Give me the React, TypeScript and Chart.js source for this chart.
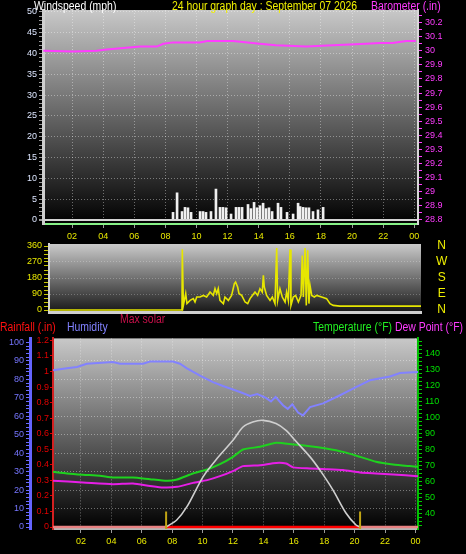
import React, { useEffect, useRef } from 'react';
import { Chart, registerables } from 'chart.js';

Chart.register(...registerables);

const FONT = "'Liberation Sans Narrow', 'Liberation Sans', Arial, sans-serif";

// ---------- texts ----------
const TITLE = '24 hour graph day : September 07 2026';
const WIND_TITLE = 'Windspeed (mph)';
const BARO_TITLE = 'Barometer (.in)';
const RAIN_TITLE = 'Rainfall (.in)';
const HUM_TITLE = 'Humidity';
const SOLAR_TITLE = 'Max solar';
const TEMP_TITLE = 'Temperature (°F)';
const DEW_TITLE = 'Dew Point (°F)';

// ---------- tick labels ----------
const hourTicks = [2, 4, 6, 8, 10, 12, 14, 16, 18, 20, 22, 24];
const hourTickLabels = ['02', '04', '06', '08', '10', '12', '14', '16', '18', '20', '22', '00'];
const windLabels = [0, 5, 10, 15, 20, 25, 30, 35, 40, 45, 50];
const baroLabels = [28.8, 28.9, 29, 29.1, 29.2, 29.3, 29.4, 29.5, 29.6, 29.7, 29.8, 29.9, 30, 30.1, 30.2];
const dirLabels = [0, 90, 180, 270, 360];
const compassLabels = ['N', 'E', 'S', 'W', 'N'];
const humLabels = [0, 10, 20, 30, 40, 50, 60, 70, 80, 90, 100];
const rainLabels = [0, 0.1, 0.2, 0.3, 0.4, 0.5, 0.6, 0.7, 0.8, 0.9, 1, 1.1, 1.2];
const tempLabels = [40, 50, 60, 70, 80, 90, 100, 110, 120, 130, 140];

// ---------- data ----------
const gustHours = [8.49, 8.75, 9.07, 9.26, 9.45, 9.65, 10.23, 10.42, 10.61, 10.93, 11.25, 11.51, 11.7, 11.9,
  12.22, 12.54, 12.73, 12.93, 13.31, 13.5, 13.7, 13.89, 14.08, 14.28, 14.47, 14.66, 14.86, 15.24, 15.43,
  15.82, 16.21, 16.53, 16.66, 16.85, 17.04, 17.23, 17.49, 17.81, 18.14];
const gustMph = [1.8, 6.5, 2, 3, 2.9, 1.8, 2, 2, 1.8, 2, 7.4, 3, 3, 2.9,
  1.4, 3, 3, 3, 3.7, 2.7, 4.2, 2.9, 3.4, 4, 2.7, 2.9, 2, 4, 3,
  1.8, 1.4, 4, 3.2, 3, 2.9, 2.9, 2, 2.4, 3];

const baroHours = [0.15, 2.08, 3.58, 4.22, 5.3, 6.37, 7.44, 7.87, 8.5, 10.2, 10.7, 12.35, 14.06, 15.1, 17.06,
  18.78, 20.9, 21.8, 22.6, 23.5, 24.1];
const baroInHg = [30.0, 29.995, 30.0, 30.01, 30.02, 30.03, 30.03, 30.05, 30.06, 30.06, 30.07, 30.07, 30.05,
  30.04, 30.03, 30.04, 30.05, 30.055, 30.055, 30.07, 30.07];

const dirHours = [0, 8.58, 8.6, 8.67, 8.82, 8.9, 9.1, 9.31, 9.42, 9.53, 9.74, 9.96, 10.17, 10.39, 10.6, 10.71,
  10.82, 10.92, 11.03, 11.25, 11.35, 11.57, 11.78, 11.96, 12.04, 12.17, 12.26, 12.43, 12.65, 12.82, 12.97,
  13.12, 13.29, 13.46, 13.61, 13.76, 13.83, 13.89, 14.04, 14.26, 14.41, 14.58, 14.69, 14.75, 14.9, 15.05,
  15.23, 15.33, 15.44, 15.55, 15.61, 15.76, 15.91, 16.09, 16.26, 16.34, 16.41, 16.52, 16.6, 16.69, 16.77,
  16.84, 16.95, 17.12, 17.27, 17.59, 17.91, 18.13, 18.34, 18.77, 24];
const dirDegrees = [0, 0, 341, 26, 92, 36, 54, 64, 45, 73, 73, 82, 73, 101, 82, 120,
  92, 120, 54, 36, 73, 54, 82, 148, 157, 129, 92, 82, 45, 36, 64,
  82, 101, 82, 120, 101, 195, 129, 82, 54, 73, 36, 349, 54, 120, 73,
  45, 101, 54, 341, 26, 73, 82, 45, 82, 307, 73, 349, 26, 336, 36,
  139, 82, 73, 82, 73, 64, 36, 26, 22, 22];

const humHours = [0.16, 1.08, 1.74, 2.39, 4.1, 4.57, 6.08, 6.54, 8.05, 8.51, 8.97, 9.83, 10.68, 11.34, 12.0,
  12.5, 13.12, 13.6, 14.17, 14.5, 14.8, 15.29, 15.6, 15.9, 16.28, 16.6, 17.07, 17.93, 19.04, 20.09, 21.01,
  22.33, 22.99, 24.17];
const humidity = [85, 86, 86.7, 88.5, 89.4, 88.5, 88.5, 89.7, 89.7, 88.5, 86, 82, 78.5, 76.4, 74.5,
  73, 71, 72, 70, 68, 70.5, 66, 64, 66.5, 62, 60.5, 65, 67, 71.4, 75.8, 79.5,
  81.6, 83.4, 84];

const tempHours = [0.16, 1.08, 2.13, 3.25, 4.1, 5.42, 6.54, 7.66, 8.32, 9.37, 10.3, 11.14, 12.0, 12.66, 13.78,
  14.84, 15.96, 17.07, 18.12, 19.24, 20.36, 21.41, 22.53, 23.64, 24.17];
const temperature = [65.8, 64.8, 64, 63.3, 62.3, 62.3, 61.2, 60.2, 61, 64.8, 67.3, 70.6, 75.2, 79.8, 81.5,
  84, 83, 81.9, 80.4, 78.3, 75.2, 72.1, 70.4, 69.4, 69];

const dewHours = [0.16, 2.13, 4.1, 5.42, 6.54, 7.4, 8.32, 9.37, 10.3, 11.14, 12.0, 12.66, 13.78, 14.84, 15.5,
  15.96, 17.07, 18.12, 19.24, 20.36, 21.41, 22.53, 24.17];
const dewPoint = [60.2, 59.2, 58.1, 58.5, 57, 56, 56.4, 58.9, 60.6, 63.1, 66.3, 69.4, 70, 71.4, 71,
  68.6, 67.9, 67.5, 66.9, 65.4, 64.8, 64.2, 63.1];

const solarHours = [7.6, 8.3, 8.97, 10.03, 10.95, 12.0, 12.66, 13.3, 13.97, 14.83, 15.49, 16.08, 17.07, 17.72,
  18.58, 19.43, 20.09, 20.36];
const maxSolar = [0, 38, 110, 272, 371, 470, 542, 569, 578, 561, 524, 470, 380, 308, 200, 76, 11, 0];

const rainHours = [0, 7.6, 20.36, 24.2];
const rainfall = [0, 0, 0, 0];

const sunriseHour = 7.6;
const sunsetHour = 20.36;

// ---------- helpers ----------
const pts = (xs: number[], ys: number[]) => xs.map((x, i) => ({ x, y: ys[i] }));
const range = (a: number, b: number, step: number) => {
  const out: number[] = [];
  for (let v = a; v <= b + 1e-9; v += step) out.push(Math.round(v * 1000) / 1000);
  return out;
};
const near = (v: number, list: number[]) => list.some((l) => Math.abs(l - v) < 1e-6);
const fmt1 = (v: number) => String(Number(v.toFixed(1)));

const GRID_DOT = 'rgba(255,255,255,0.38)';

const bgPlugin = {
  id: 'bgGradient',
  beforeDraw(chart: any, _args: any, opts: any) {
    const { ctx, chartArea: a } = chart;
    if (!a || !opts || !opts.stops) return;
    const g = ctx.createLinearGradient(0, a.top, 0, a.bottom);
    opts.stops.forEach((s: [number, string]) => g.addColorStop(s[0], s[1]));
    ctx.save();
    ctx.fillStyle = g;
    ctx.fillRect(a.left, a.top, a.right - a.left, a.bottom - a.top);
    ctx.restore();
  },
};

const tickFont = { size: 9, family: FONT };

const hourAxis = (min: number, max: number, height: number, borderColor: string, borderWidth: number) => ({
  type: 'linear',
  min,
  max,
  bounds: 'data',
  offset: false,
  afterBuildTicks: (s: any) => { s.ticks = hourTicks.map((v) => ({ value: v })); },
  afterFit: (s: any) => { s.height = height; },
  ticks: {
    color: '#e8e800',
    font: tickFont,
    padding: 3,
    maxRotation: 0,
    autoSkip: false,
    callback: (v: number) => hourTickLabels[hourTicks.indexOf(v)] ?? '',
  },
  grid: { color: GRID_DOT, tickColor: '#9a9a9a', tickLength: 4, offset: false },
  border: { color: borderColor, width: borderWidth, dash: [1, 2] },
});

const baseOptions = (padTop: number, stops: [number, string][]) => ({
  responsive: false,
  maintainAspectRatio: false,
  animation: false,
  events: [],
  layout: { padding: { top: padTop, left: 0, right: 0, bottom: 0 } },
  plugins: {
    legend: { display: false },
    tooltip: { enabled: false },
    bgGradient: { stops },
  },
});

function makeWindChart(canvas: HTMLCanvasElement) {
  return new Chart(canvas, {
    type: 'line',
    plugins: [bgPlugin as any],
    data: {
      datasets: [
        {
          type: 'line', label: 'Barometer', data: pts(baroHours, baroInHg), yAxisID: 'yBaro',
          borderColor: '#ff3cff', borderWidth: 2, pointRadius: 0, tension: 0,
        },
        {
          type: 'bar', label: 'Wind gust', data: pts(gustHours, gustMph), yAxisID: 'yWind',
          backgroundColor: '#f0f0f0', barThickness: 2,
        },
      ] as any,
    },
    options: {
      ...baseOptions(10, [[0, '#c8c8c8'], [1, '#000000']]),
      scales: {
        x: hourAxis(0.13, 24.24, 26, '#86f086', 2),
        yWind: {
          type: 'linear', position: 'left', min: -1, max: 50.48, bounds: 'data',
          afterBuildTicks: (s: any) => { s.ticks = range(0, 50, 1).map((v) => ({ value: v })); },
          afterFit: (s: any) => { s.width = 43; },
          ticks: {
            color: '#dde6ff', font: tickFont, padding: 2, autoSkip: false,
            callback: (v: number) => (near(v, windLabels) ? String(v) : ''),
          },
          grid: {
            color: (c: any) => {
              const v = c.tick ? c.tick.value : -1;
              if (v === 0) return '#d4d4d4';
              return near(v, windLabels) ? GRID_DOT : 'rgba(0,0,0,0)';
            },
            lineWidth: (c: any) => (c.tick && c.tick.value === 0 ? 2 : 1),
            tickColor: '#9a9a9a', tickLength: 4,
          },
          border: { color: '#cfcfcf', width: 3, dash: (c: any) => (c.tick && c.tick.value === 0 ? [] : [1, 2]) },
        },
        yBaro: {
          type: 'linear', position: 'right', min: 28.77, max: 30.29, bounds: 'data',
          afterBuildTicks: (s: any) => { s.ticks = range(28.8, 30.25, 0.05).map((v) => ({ value: v })); },
          afterFit: (s: any) => { s.width = 48; },
          ticks: {
            color: '#ff3cff', font: tickFont, padding: 3, autoSkip: false,
            callback: (v: number) => (near(v, baroLabels) ? fmt1(v) : ''),
          },
          grid: { drawOnChartArea: false, tickColor: '#ff3cff', tickLength: 4 },
          border: { color: '#d8d8d8', width: 2 },
        },
      },
    } as any,
  });
}

function makeDirChart(canvas: HTMLCanvasElement) {
  return new Chart(canvas, {
    type: 'line',
    plugins: [bgPlugin as any],
    data: {
      datasets: [
        {
          label: 'Wind direction', data: pts(dirHours, dirDegrees), yAxisID: 'yDir',
          borderColor: '#e6e600', borderWidth: 1.6, pointRadius: 0, tension: 0,
        },
      ],
    },
    options: {
      ...baseOptions(8, [[0, '#cacaca'], [1, '#181818']]),
      scales: {
        x: {
          type: 'linear', min: 0, max: 24, bounds: 'data',
          afterFit: (s: any) => { s.height = 10; },
          ticks: { display: false },
          grid: { display: false },
          border: { color: '#cfcfcf', width: 3 },
        },
        yDir: {
          type: 'linear', position: 'left', min: -11.25, max: 371.25, bounds: 'data',
          afterBuildTicks: (s: any) => { s.ticks = range(0, 360, 22.5).map((v) => ({ value: v })); },
          afterFit: (s: any) => { s.width = 49; },
          ticks: {
            color: '#e8e800', font: tickFont, padding: 2, autoSkip: false,
            callback: (v: number) => (near(v, dirLabels) ? String(v) : ''),
          },
          grid: {
            color: (c: any) => {
              const v = c.tick ? c.tick.value : -1;
              return v > 0 && v < 360 && near(v, dirLabels) ? 'rgba(255,255,255,0.25)' : 'rgba(0,0,0,0)';
            },
            tickColor: '#c8c800', tickLength: 5,
          },
          border: { color: '#d0d0d0', width: 2, dash: [1, 2] },
        },
        yCompass: {
          type: 'linear', position: 'right', min: -11.25, max: 371.25, bounds: 'data',
          afterBuildTicks: (s: any) => { s.ticks = dirLabels.map((v) => ({ value: v })); },
          afterFit: (s: any) => { s.width = 45; },
          ticks: {
            color: '#f0f000', font: { size: 12, family: FONT }, padding: 0, crossAlign: 'center', autoSkip: false,
            callback: (_v: number, i: number) => compassLabels[i],
          },
          grid: { drawOnChartArea: false, drawTicks: true, tickLength: 15, tickColor: 'rgba(0,0,0,0)' },
          border: { display: false },
        },
      },
    } as any,
  });
}

function makeTempChart(canvas: HTMLCanvasElement) {
  return new Chart(canvas, {
    type: 'line',
    plugins: [bgPlugin as any],
    data: {
      datasets: [
        {
          label: 'Sunrise', data: [{ x: sunriseHour, y: -0.02 }, { x: sunriseHour, y: 0.1 }], yAxisID: 'yRain',
          borderColor: '#c0a414', borderWidth: 2, pointRadius: 0,
        },
        {
          label: 'Sunset', data: [{ x: sunsetHour, y: -0.02 }, { x: sunsetHour, y: 0.1 }], yAxisID: 'yRain',
          borderColor: '#c0a414', borderWidth: 2, pointRadius: 0,
        },
        {
          label: 'Max solar', data: pts(solarHours, maxSolar), yAxisID: 'ySolar',
          borderColor: '#cfcfcf', borderWidth: 1.6, pointRadius: 0, tension: 0.3,
        },
        {
          label: 'Humidity', data: pts(humHours, humidity), yAxisID: 'yHum',
          borderColor: '#8282ff', borderWidth: 2, pointRadius: 0, tension: 0,
        },
        {
          label: 'Temperature', data: pts(tempHours, temperature), yAxisID: 'yTemp',
          borderColor: '#1ed21e', borderWidth: 2, pointRadius: 0, tension: 0.2,
        },
        {
          label: 'Dew Point', data: pts(dewHours, dewPoint), yAxisID: 'yTemp',
          borderColor: '#e61ee6', borderWidth: 2, pointRadius: 0, tension: 0.2,
        },
        {
          label: 'Rainfall', data: pts(rainHours, rainfall), yAxisID: 'yRain',
          borderColor: '#ff0000', borderWidth: 2.5, pointRadius: 0,
          segment: {
            borderColor: (c: any) =>
              c.p0.parsed.x >= sunriseHour - 1e-6 && c.p1.parsed.x <= sunsetHour + 1e-6 ? '#ff0000' : '#e88282',
          },
        },
      ] as any,
    },
    options: {
      ...baseOptions(8, [[0, '#c8c8c8'], [1, '#000000']]),
      scales: {
        x: hourAxis(0.16, 24.17, 25, '#b4b4b4', 2),
        yHum: {
          type: 'linear', position: 'left', weight: 1, min: -1.08, max: 102.2, bounds: 'data',
          afterBuildTicks: (s: any) => { s.ticks = range(0, 100, 2).map((v) => ({ value: v })); },
          afterFit: (s: any) => { s.width = 30; },
          ticks: {
            color: '#7676ff', font: tickFont, padding: 2, autoSkip: false,
            callback: (v: number) => (near(v, humLabels) ? String(v) : ''),
          },
          grid: {
            color: (c: any) => {
              const v = c.tick ? c.tick.value : -1;
              return v > 0 && v < 100 && near(v, humLabels) ? GRID_DOT : 'rgba(0,0,0,0)';
            },
            tickColor: '#6a6aff', tickLength: 4,
          },
          border: { color: '#6464ff', width: 3, dash: [1, 2] },
        },
        yRain: {
          type: 'linear', position: 'left', weight: 0, min: -0.0128, max: 1.213, bounds: 'data',
          afterBuildTicks: (s: any) => { s.ticks = rainLabels.map((v) => ({ value: v })); },
          afterFit: (s: any) => { s.width = 23; },
          ticks: { color: '#e00000', font: tickFont, padding: 1, autoSkip: false, callback: (v: number) => fmt1(v) },
          grid: { drawOnChartArea: false, tickColor: '#e00000', tickLength: 3 },
          border: { color: '#d42020', width: 2 },
        },
        yTemp: {
          type: 'linear', position: 'right', min: 30, max: 149.4, bounds: 'data',
          afterBuildTicks: (s: any) => { s.ticks = range(32.5, 147.5, 2.5).map((v) => ({ value: v })); },
          afterFit: (s: any) => { s.width = 48; },
          ticks: {
            color: '#00e000', font: tickFont, padding: 3, autoSkip: false,
            callback: (v: number) => (near(v, tempLabels) ? String(v) : ''),
          },
          grid: { drawOnChartArea: false, tickColor: '#00cc00', tickLength: 4 },
          border: { color: '#00c000', width: 2 },
        },
        ySolar: { type: 'linear', display: false, min: -10.8, max: 1022, bounds: 'data' },
      },
    } as any,
  });
}

const textStyle = (left: number, top: number, color: string, size = 12): React.CSSProperties => ({
  position: 'absolute',
  left,
  top,
  color,
  fontFamily: FONT,
  fontSize: size,
  lineHeight: `${size}px`,
  whiteSpace: 'nowrap',
  zIndex: 5,
  transform: 'scaleX(0.87)',
  transformOrigin: '0 0',
});

const canvasStyle = (top: number, height: number): React.CSSProperties => ({
  position: 'absolute',
  left: 0,
  top,
  width: 466,
  height,
  display: 'block',
});

export default function App() {
  const c1 = useRef<HTMLCanvasElement>(null);
  const c2 = useRef<HTMLCanvasElement>(null);
  const c3 = useRef<HTMLCanvasElement>(null);

  useEffect(() => {
    document.body.style.margin = '0';
    document.body.style.background = '#000';
    const charts = [
      makeWindChart(c1.current as HTMLCanvasElement),
      makeDirChart(c2.current as HTMLCanvasElement),
      makeTempChart(c3.current as HTMLCanvasElement),
    ];
    return () => charts.forEach((c) => c.destroy());
  }, []);

  return (
    <div style={{ position: 'relative', width: 466, height: 554, background: '#000', overflow: 'hidden' }}>
      <canvas ref={c1} width={466} height={250} style={canvasStyle(0, 250)} />
      <canvas ref={c2} width={466} height={86} style={canvasStyle(236, 86)} />
      <canvas ref={c3} width={466} height={224} style={canvasStyle(330, 224)} />
      <div style={textStyle(34, 0, '#ffffff')}>{WIND_TITLE}</div>
      <div style={textStyle(172, 0, '#f0f000')}>{TITLE}</div>
      <div style={textStyle(371, 0, '#ff3cff')}>{BARO_TITLE}</div>
      <div style={textStyle(0, 321, '#ff1010')}>{RAIN_TITLE}</div>
      <div style={textStyle(67, 321, '#8282ff')}>{HUM_TITLE}</div>
      <div style={textStyle(120, 312.5, '#c8104a')}>{SOLAR_TITLE}</div>
      <div style={textStyle(313, 320.5, '#22f022')}>{TEMP_TITLE}</div>
      <div style={textStyle(395, 320.5, '#ff3cff')}>{DEW_TITLE}</div>
    </div>
  );
}
